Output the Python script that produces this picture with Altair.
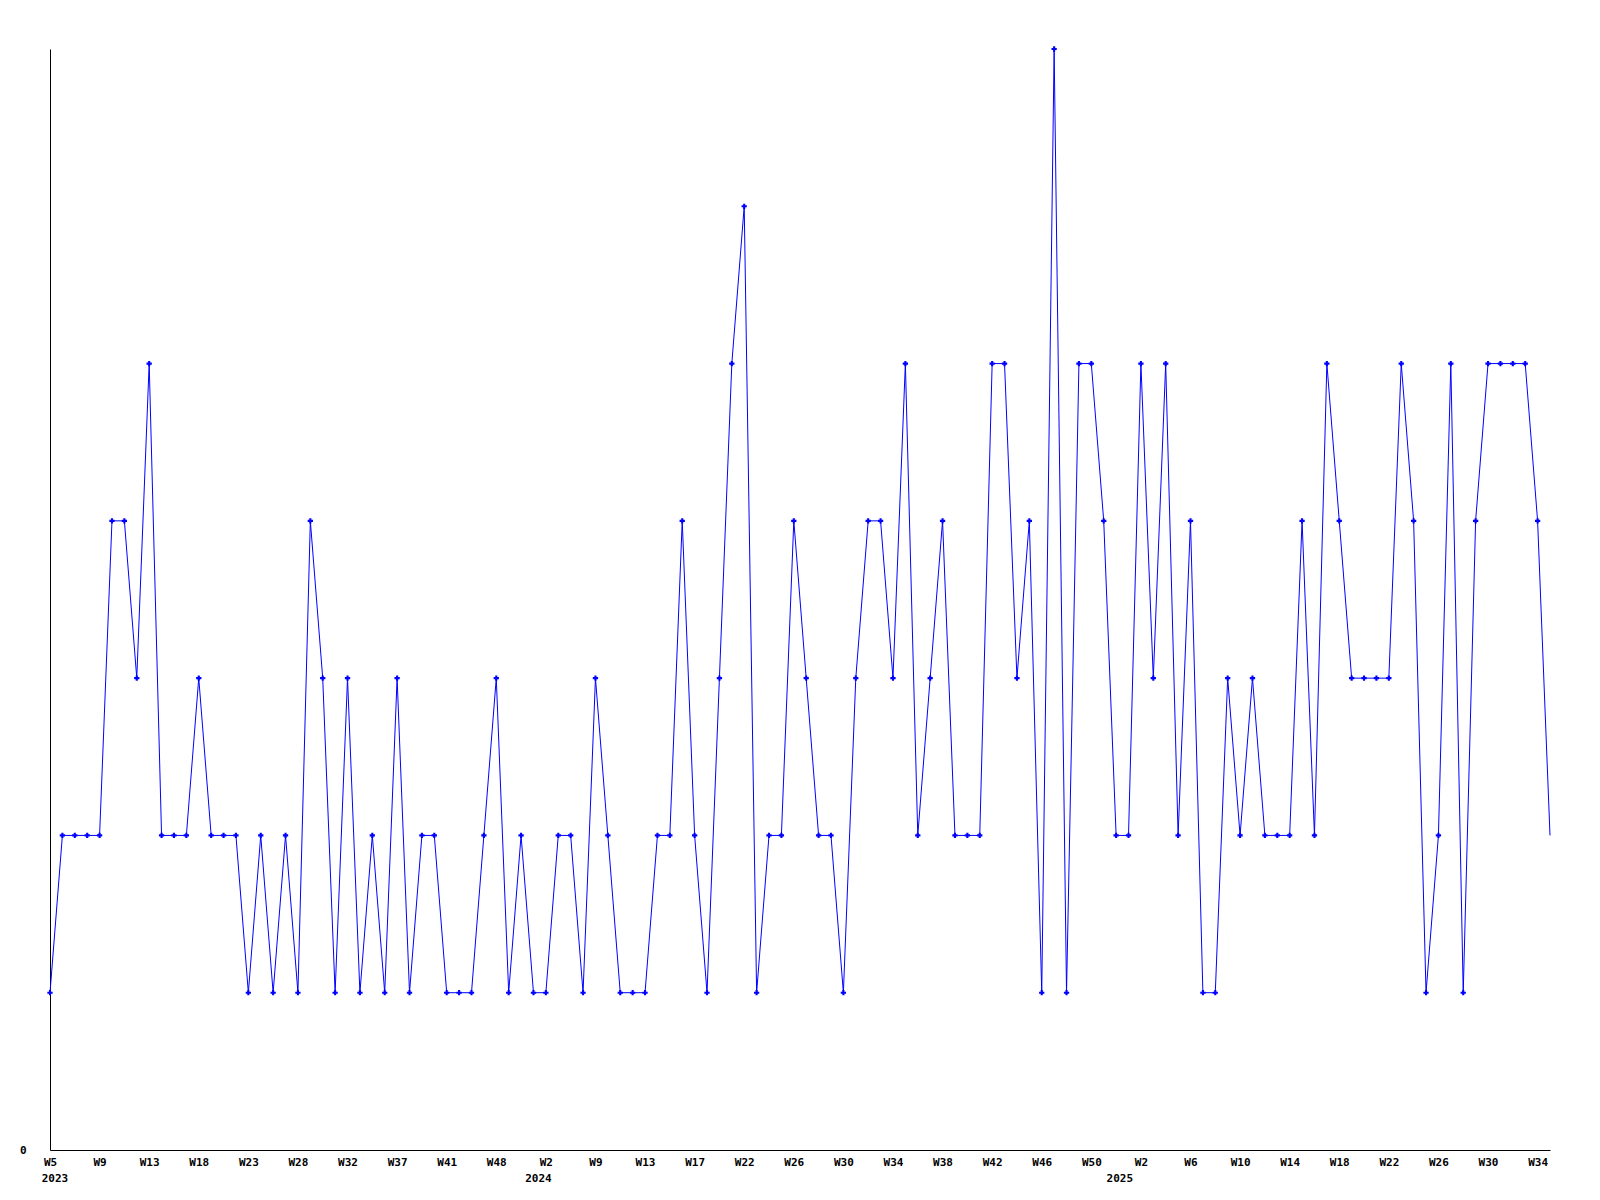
import altair as alt
import pandas as pd

values = [1, 2, 2, 2, 2, 4, 4, 3, 5, 2,
          2, 2, 3, 2, 2, 2, 1, 2, 1, 2,
          1, 4, 3, 1, 3, 1, 2, 1, 3, 1,
          2, 2, 1, 1, 1, 2, 3, 1, 2, 1,
          1, 2, 2, 1, 3, 2, 1, 1, 1, 2,
          2, 4, 2, 1, 3, 5, 6, 1, 2, 2,
          4, 3, 2, 2, 1, 3, 4, 4, 3, 5,
          2, 3, 4, 2, 2, 2, 5, 5, 3, 4,
          1, 7, 1, 5, 5, 4, 2, 2, 5, 3,
          5, 2, 4, 1, 1, 3, 2, 3, 2, 2,
          2, 4, 2, 5, 4, 3, 3, 3, 3, 5,
          4, 1, 2, 5, 1, 4, 5, 5, 5, 5,
          4, 2]

tick_labels = ["W5", "W9", "W13", "W18", "W23", "W28", "W32", "W37", "W41", "W48",
               "W2", "W9", "W13", "W17", "W22", "W26", "W30", "W34", "W38", "W42",
               "W46", "W50", "W2", "W6", "W10", "W14", "W18", "W22", "W26", "W30", "W34"]
tick_step = 4

year_labels = ["2023", "2024", "2025"]
year_pos = [0.4, 39.4, 86.3]

FONT = "DejaVu Sans Mono"
BLUE = "#0000ff"
W, H = 1500, 1101

df = pd.DataFrame({"idx": list(range(len(values))), "v": values})
ydf = pd.DataFrame({"idx": year_pos, "year": year_labels})

n = len(values)
xscale = alt.Scale(domain=[0, n - 1], nice=False, zero=False)
yscale = alt.Scale(domain=[0, 7], nice=False)

label_arr = "[" + ",".join("'" + t + "'" for t in tick_labels) + "]"

x_axis = alt.Axis(
    values=[i * tick_step for i in range(len(tick_labels))],
    labelExpr=f"{label_arr}[round(datum.value/{tick_step})]",
    ticks=False, grid=False, title=None,
    domainColor="black", domainWidth=1,
    labelFont=FONT, labelFontWeight="bold", labelFontSize=11, labelColor="black",
    labelPadding=6, labelBaseline="top", labelOverlap=False, labelFlush=False,
)
y_axis = alt.Axis(
    values=[0], format="d", ticks=False, grid=False, title=None,
    domainColor="black", domainWidth=1,
    labelFont=FONT, labelFontWeight="bold", labelFontSize=11, labelColor="black",
    labelPadding=24, labelBaseline="middle",
)

base = alt.Chart(df)

line = base.mark_line(color=BLUE, strokeWidth=1).encode(
    x=alt.X("idx:Q", scale=xscale, axis=x_axis),
    y=alt.Y("v:Q", scale=yscale, axis=y_axis),
)

pts = base.transform_filter(f"datum.idx < {n - 1}").mark_point(
    shape="cross", filled=True, size=28, color=BLUE, opacity=1
).encode(
    x=alt.X("idx:Q", scale=xscale),
    y=alt.Y("v:Q", scale=yscale),
)

years = alt.Chart(ydf).mark_text(
    font=FONT, fontWeight="bold", fontSize=11, color="black",
    baseline="top", align="center", clip=False
).encode(
    x=alt.X("idx:Q", scale=xscale),
    y=alt.value(H + 23),
    text="year:N",
)

chart = alt.layer(line, pts, years).properties(
    width=W, height=H,
    autosize=alt.AutoSizeParams(type="none"),
    padding={"left": 42, "top": 41, "right": 42, "bottom": 42},
).configure(background="white").configure_view(stroke=None, strokeWidth=0)

chart.save("out.html", embed_options={"renderer": "svg", "actions": False})
